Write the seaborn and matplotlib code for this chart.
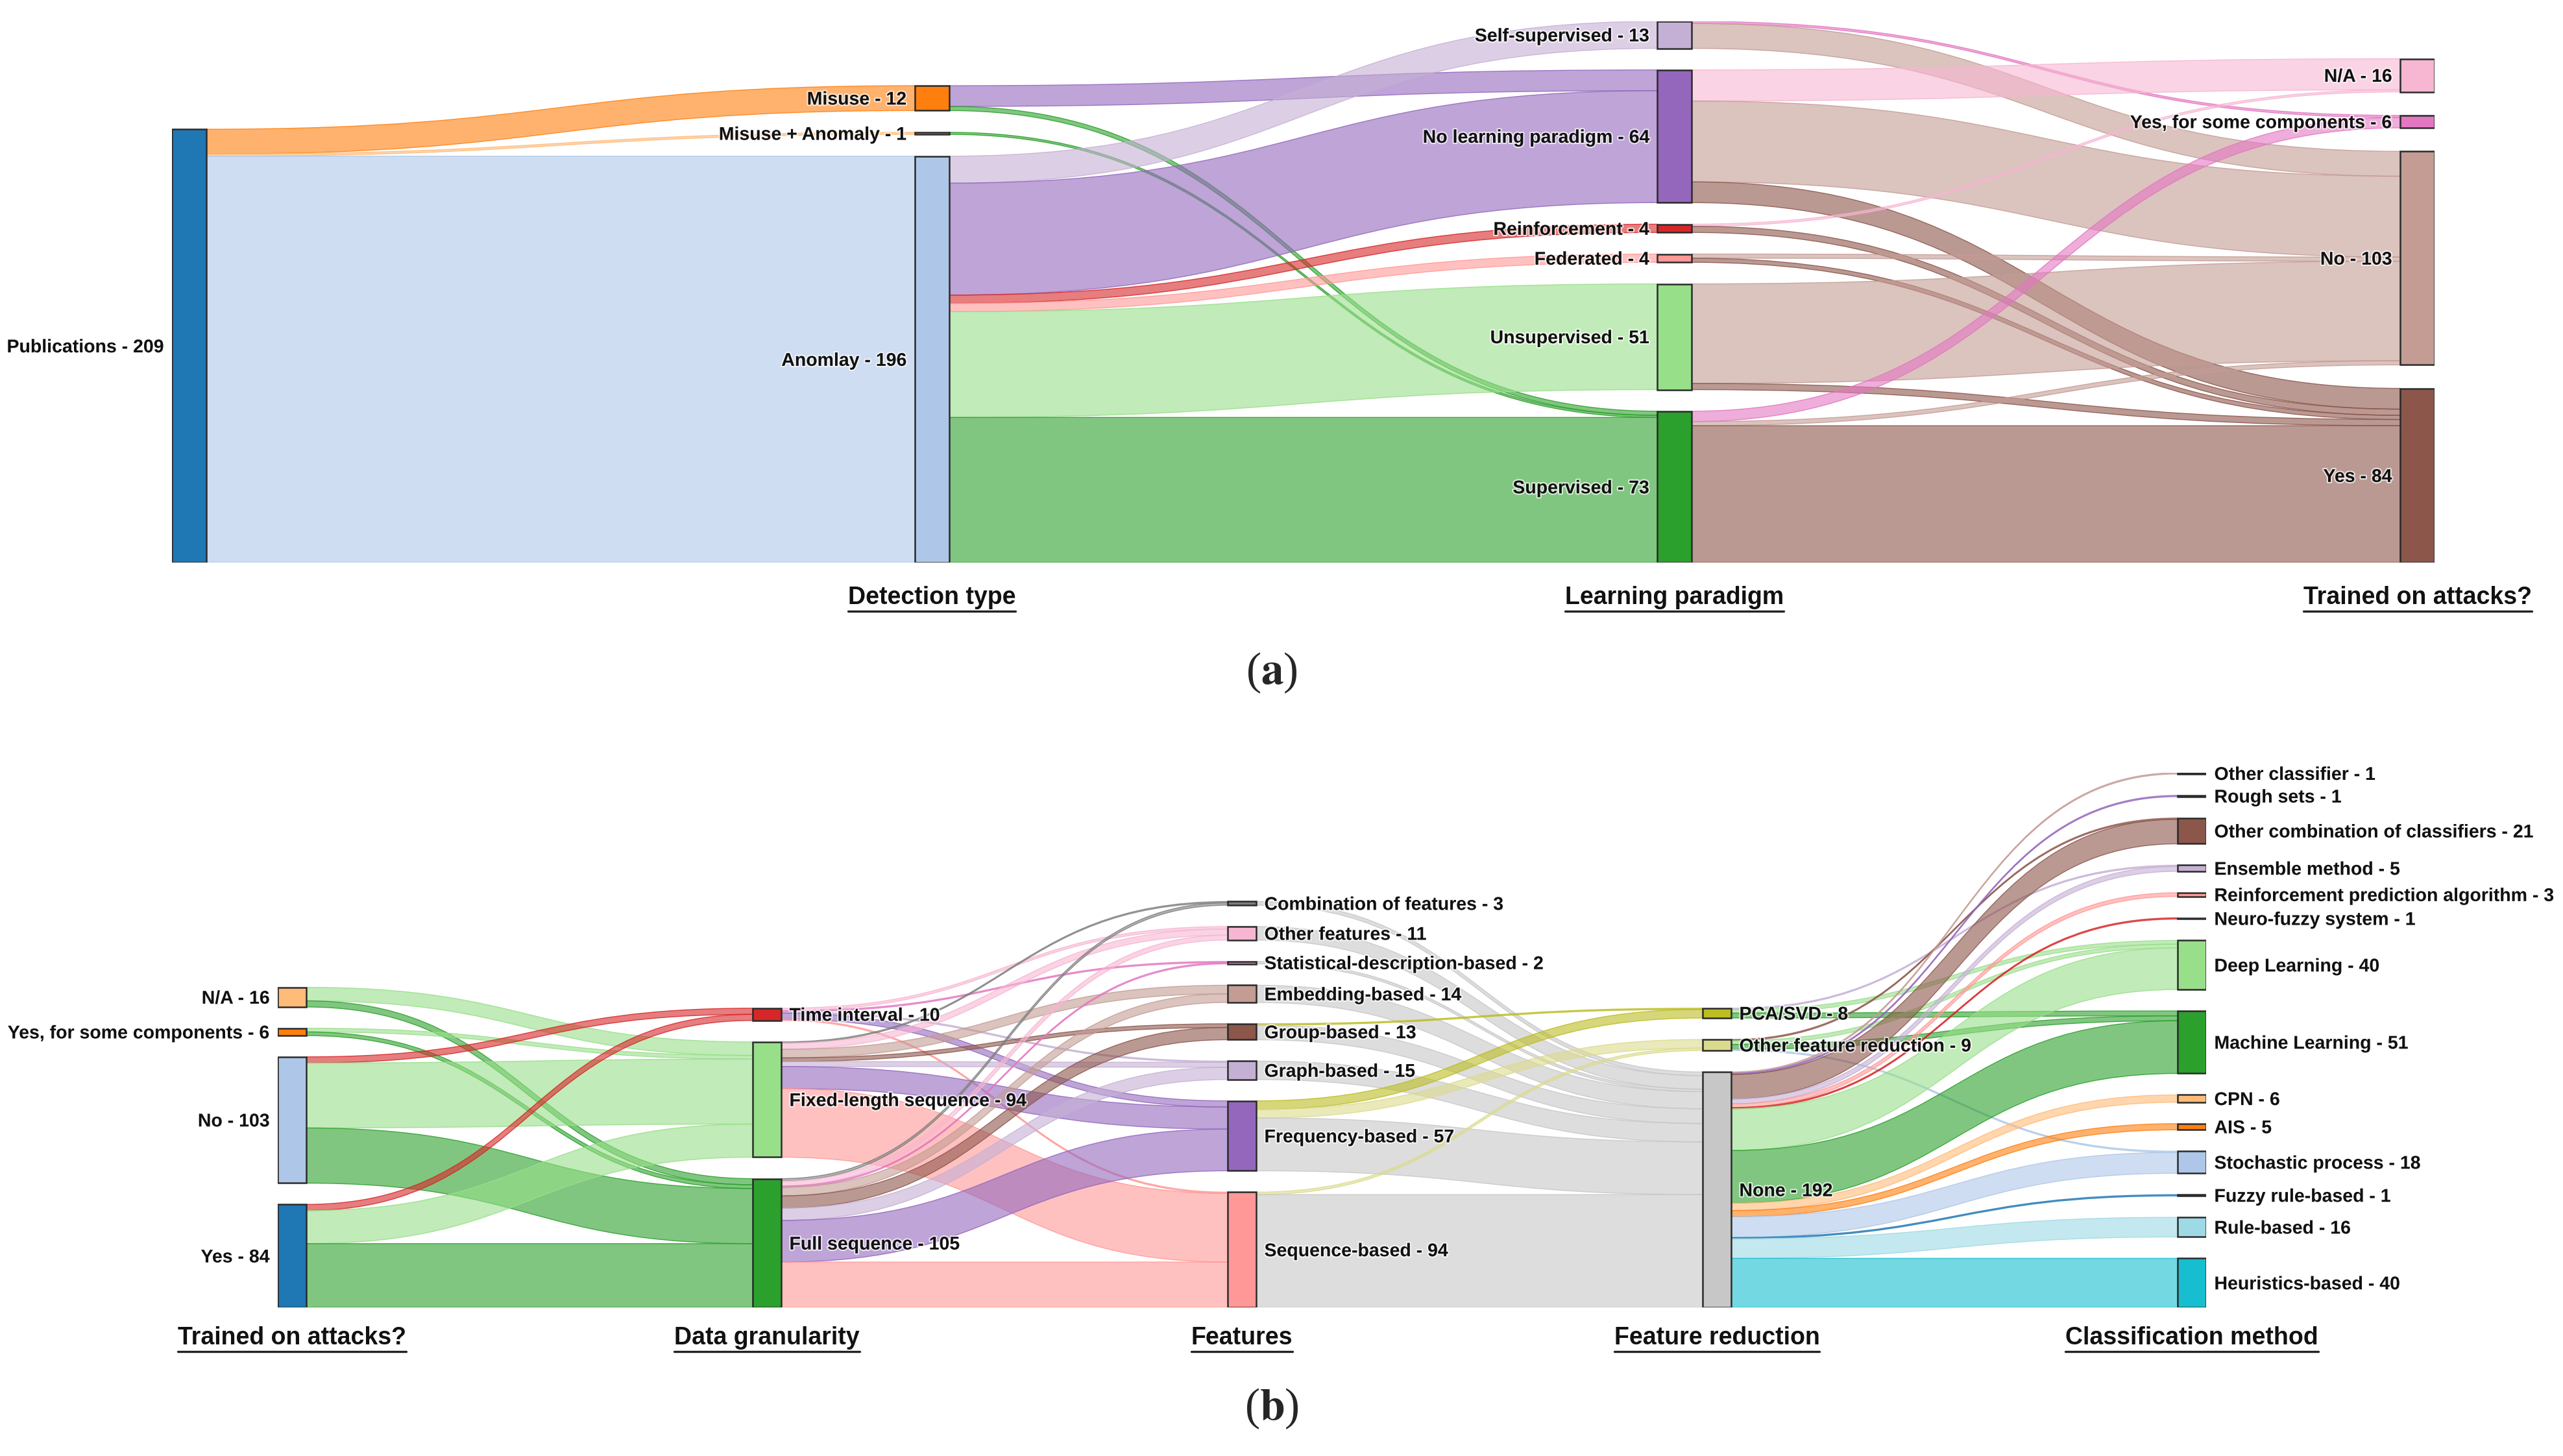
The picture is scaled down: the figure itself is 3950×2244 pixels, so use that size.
import pandas as pd
import seaborn as sns
import matplotlib.pyplot as plt
from matplotlib.path import Path
from matplotlib.patches import PathPatch, Rectangle
from matplotlib.lines import Line2D
import matplotlib.patheffects as pe

# ---------------- data: panel (a) ----------------
cols_a = [
    ["Publications"],
    ["Misuse", "Misuse + Anomaly", "Anomlay"],
    ["Self-supervised", "No learning paradigm", "Reinforcement", "Federated", "Unsupervised", "Supervised"],
    ["N/A", "Yes, for some components", "No", "Yes"],
]
titles_a = ["", "Detection type", "Learning paradigm", "Trained on attacks?"]

src_a = ["Publications", "Publications", "Publications",
         "Misuse", "Misuse", "Misuse + Anomaly",
         "Anomlay", "Anomlay", "Anomlay", "Anomlay", "Anomlay", "Anomlay",
         "Self-supervised", "Self-supervised",
         "No learning paradigm", "No learning paradigm", "No learning paradigm",
         "Reinforcement", "Reinforcement",
         "Federated", "Federated",
         "Unsupervised", "Unsupervised",
         "Supervised", "Supervised", "Supervised"]
tgt_a = ["Misuse", "Misuse + Anomaly", "Anomlay",
         "No learning paradigm", "Supervised", "Supervised",
         "Self-supervised", "No learning paradigm", "Reinforcement", "Federated", "Unsupervised", "Supervised",
         "Yes, for some components", "No",
         "N/A", "No", "Yes",
         "N/A", "Yes",
         "No", "Yes",
         "No", "Yes",
         "Yes, for some components", "No", "Yes"]
val_a = [12, 1, 196,
         10, 2, 1,
         13, 54, 4, 4, 51, 70,
         1, 12,
         15, 39, 10,
         1, 3,
         2, 2,
         48, 3,
         5, 2, 66]

# ---------------- data: panel (b) ----------------
cols_b = [
    ["N/A", "Yes, for some components", "No", "Yes"],
    ["Time interval", "Fixed-length sequence", "Full sequence"],
    ["Combination of features", "Other features", "Statistical-description-based", "Embedding-based",
     "Group-based", "Graph-based", "Frequency-based", "Sequence-based"],
    ["PCA/SVD", "Other feature reduction", "None"],
    ["Other classifier", "Rough sets", "Other combination of classifiers", "Ensemble method",
     "Reinforcement prediction algorithm", "Neuro-fuzzy system", "Deep Learning", "Machine Learning",
     "CPN", "AIS", "Stochastic process", "Fuzzy rule-based", "Rule-based", "Heuristics-based"],
]
titles_b = ["Trained on attacks?", "Data granularity", "Features", "Feature reduction", "Classification method"]

src_b = (["N/A"] * 2 + ["Yes, for some components"] * 2 + ["No"] * 3 + ["Yes"] * 3
         + ["Time interval"] * 5 + ["Fixed-length sequence"] * 7 + ["Full sequence"] * 8
         + ["Combination of features", "Other features", "Statistical-description-based", "Embedding-based"]
         + ["Group-based"] * 2 + ["Graph-based"] + ["Frequency-based"] * 3 + ["Sequence-based"] * 2
         + ["PCA/SVD"] * 3 + ["Other feature reduction"] * 4 + ["None"] * 14)
tgt_b = (["Fixed-length sequence", "Full sequence"] * 2
         + ["Time interval", "Fixed-length sequence", "Full sequence"] * 2
         + ["Other features", "Statistical-description-based", "Graph-based", "Frequency-based", "Sequence-based"]
         + ["Combination of features", "Other features", "Embedding-based", "Group-based", "Graph-based",
            "Frequency-based", "Sequence-based"]
         + ["Combination of features", "Other features", "Statistical-description-based", "Embedding-based",
            "Group-based", "Graph-based", "Frequency-based", "Sequence-based"]
         + ["None"] * 4
         + ["PCA/SVD", "None", "None", "PCA/SVD", "Other feature reduction", "None", "Other feature reduction", "None"]
         + ["Ensemble method", "Deep Learning", "Machine Learning"]
         + ["Other combination of classifiers", "Deep Learning", "Machine Learning", "Stochastic process"]
         + ["Other classifier", "Rough sets", "Other combination of classifiers", "Ensemble method",
            "Reinforcement prediction algorithm", "Neuro-fuzzy system", "Deep Learning", "Machine Learning",
            "CPN", "AIS", "Stochastic process", "Fuzzy rule-based", "Rule-based", "Heuristics-based"])
val_b = ([11, 5, 3, 3, 5, 53, 45, 5, 27, 52]
         + [2, 1, 1, 5, 1]
         + [1, 5, 7, 3, 4, 18, 56]
         + [2, 4, 1, 7, 10, 10, 34, 37]
         + [3, 11, 2, 14]
         + [1, 12, 15, 7, 7, 43, 2, 92]
         + [1, 3, 4]
         + [1, 3, 4, 1]
         + [1, 1, 20, 4, 3, 1, 34, 43, 6, 5, 17, 1, 16, 40])

# ---------------- style / layout ----------------
sns.set_theme(style="white")
plt.rcParams["font.family"] = ["Liberation Sans", "DejaVu Sans"]
plt.rcParams["mathtext.fontset"] = "stix"
tab = sns.color_palette("tab20")

color_idx_a = [[0], [2, 3, 1], [9, 8, 6, 7, 5, 4], [13, 12, 11, 10]]
color_idx_b = [[3, 2, 1, 0], [6, 5, 4], [14, 13, 12, 11, 10, 9, 8, 7], [16, 17, 15],
               [11, 8, 10, 9, 7, 6, 5, 4, 3, 2, 1, 0, 19, 18]]

W, H = 3950, 2244
fig = plt.figure(figsize=(W / 100, H / 100), dpi=100)
fig.patch.set_facecolor("white")


def sankey(ax, cols, src, tgt, val, cidx, col_top, height, node_w, sides, titles, title_y):
    names = [n for c in cols for n in c]
    col_of = {n: i for i, c in enumerate(cols) for n in c}
    color = {n: tab[cidx[i][j]] for i, c in enumerate(cols) for j, n in enumerate(c)}
    df = pd.DataFrame({"src": src, "tgt": tgt, "val": val})
    out_s = df.groupby("src")["val"].sum()
    in_s = df.groupby("tgt")["val"].sum()
    total = {n: max(out_s.get(n, 0), in_s.get(n, 0)) for n in names}

    y0 = {}
    for i, c in enumerate(cols):
        s = sum(total[n] for n in c)
        gap = (height - col_top[i] - s) / (len(c) - 1) if len(c) > 1 else 0
        y = col_top[i]
        for n in c:
            y0[n] = y
            y += total[n] + gap

    df["sy"] = 0.0
    df["ty"] = 0.0
    for n in names:
        sub = df[df.src == n]
        y = y0[n]
        for idx in sub.assign(k=sub.tgt.map(y0)).sort_values("k").index:
            df.loc[idx, "sy"] = y
            y += df.loc[idx, "val"]
        sub = df[df.tgt == n]
        y = y0[n]
        for idx in sub.assign(k=sub.src.map(y0)).sort_values("k").index:
            df.loc[idx, "ty"] = y
            y += df.loc[idx, "val"]

    for _, r in df.iterrows():
        x0 = col_of[r.src] + node_w
        x1 = col_of[r.tgt]
        xm = (x0 + x1) / 2
        v = r.val
        verts = [(x0, r.sy), (xm, r.sy), (xm, r.ty), (x1, r.ty), (x1, r.ty + v),
                 (xm, r.ty + v), (xm, r.sy + v), (x0, r.sy + v), (x0, r.sy)]
        codes = [Path.MOVETO, Path.CURVE4, Path.CURVE4, Path.CURVE4, Path.LINETO,
                 Path.CURVE4, Path.CURVE4, Path.CURVE4, Path.CLOSEPOLY]
        c = color[r.tgt]
        ax.add_patch(PathPatch(Path(verts, codes), fc=(*c, 0.6), ec=(*c, 0.85), lw=1.0, zorder=1))

    halo = [pe.withStroke(linewidth=3, foreground="white", alpha=0.7)]
    for n in names:
        i = col_of[n]
        ax.add_patch(Rectangle((i, y0[n]), node_w, total[n], fc=color[n], ec="#2b2b2b",
                               lw=1.8, zorder=3))
        yc = y0[n] + total[n] / 2
        if sides[i] == "left":
            ax.annotate(f"{n} - {total[n]}", (i, yc), xytext=(-9, 0), textcoords="offset points",
                        ha="right", va="center_baseline", fontsize=20.5, fontweight="bold",
                        color="#111111", zorder=5, path_effects=halo, annotation_clip=False)
        else:
            ax.annotate(f"{n} - {total[n]}", (i + node_w, yc), xytext=(9, 0), textcoords="offset points",
                        ha="left", va="center_baseline", fontsize=20.5, fontweight="bold",
                        color="#111111", zorder=5, path_effects=halo, annotation_clip=False)

    tt = []
    for i, t in enumerate(titles):
        if t:
            tt.append(ax.text(i + node_w / 2, title_y, t, ha="center", va="baseline", fontsize=27,
                              fontweight="bold", color="#111111", clip_on=False))
    ax.set_xlim(0, len(cols) - 1 + node_w)
    ax.set_ylim(height, 0)
    ax.set_axis_off()
    return tt


# panel (a): pixel frame 265..3752 x 33..867
ax_a = fig.add_axes([265 / W, 1 - 867 / H, (3752 - 265) / W, (867 - 33) / H])
t_a = sankey(ax_a, cols_a, src_a, tgt_a, val_a, color_idx_a, [52, 31, 0, 18], 261, 53 / 1144.7,
             ["left"] * 4, titles_a, 281)

# panel (b): pixel frame 428..3400 x 1191..2015
ax_b = fig.add_axes([428 / W, 1 - 2015 / H, (3400 - 428) / W, (2015 - 1191) / H])
t_b = sankey(ax_b, cols_b, src_b, tgt_b, val_b, color_idx_b, [175, 192, 105, 192, 0], 436, 44 / 732,
             ["left", "right", "right", "right", "right"], titles_b, 466)

# underline the column titles
fig.canvas.draw()
rend = fig.canvas.get_renderer()
for t in t_a + t_b:
    bb = t.get_window_extent(rend)
    yb = t.axes.transData.transform(t.get_position())[1] - 11
    fig.add_artist(Line2D([bb.x0 / W, bb.x1 / W], [yb / H, yb / H], transform=fig.transFigure,
                          color="#222222", lw=2.4))

fig.text(1960 / W, 1 - 1037 / H, r"($\mathbf{a}$)", ha="center", va="center", fontsize=50,
         family="Liberation Serif")
fig.text(1960 / W, 1 - 2171 / H, r"($\mathbf{b}$)", ha="center", va="center", fontsize=50,
         family="Liberation Serif")

fig.savefig("out.png", dpi=100, facecolor="white")
